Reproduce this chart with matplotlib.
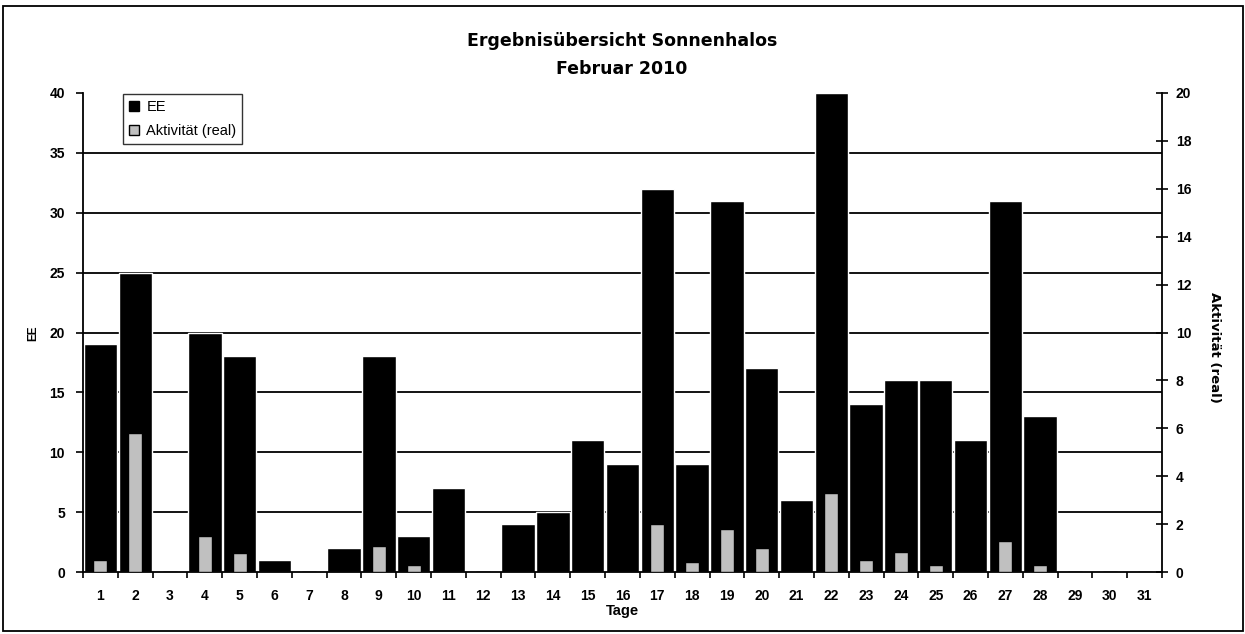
import matplotlib
matplotlib.use("Agg")
import matplotlib.pyplot as plt
from matplotlib.patches import Rectangle, Patch

days = list(range(1, 32))
ee = [19, 25, 0, 20, 18, 1, 0, 2, 18, 3, 7, 0, 4, 5, 11, 9, 32, 9, 31, 17,
      6, 40, 14, 16, 16, 11, 31, 13, 0, 0, 0]
akt = [0.5, 5.8, 0, 1.5, 0.8, 0, 0, 0, 1.1, 0.3, 0, 0, 0, 0, 0, 0, 2.0, 0.4, 1.8, 1.0,
       0, 3.3, 0.5, 0.85, 0.3, 0, 1.3, 0.3, 0, 0, 0]
title = "Ergebnisübersicht Sonnenhalos\nFebruar 2010"

plt.rcParams['font.family'] = ['Liberation Sans', 'DejaVu Sans']

W, H = 1245, 634
fig = plt.figure(figsize=(W / 100, H / 100), dpi=100)
ax = fig.add_axes([83 / W, 1 - 572 / H, (1162 - 83) / W, (572 - 93) / H])
ax2 = ax.twinx()

ax.set_axisbelow(True)
ax.bar(days, ee, width=0.96, color='black', edgecolor='white', linewidth=1.0, zorder=2)
ax2.bar(days, akt, width=0.4, color='#c0c0c0', edgecolor='black', linewidth=1.0, zorder=3)

ax.set_xlim(0.5, 31.5)
ax.set_ylim(0, 40)
ax2.set_ylim(0, 20)
ax.set_yticks(range(0, 41, 5))
ax2.set_yticks(range(0, 21, 2))
ax.set_xticks(days)
ax.set_xticks([d + 0.5 for d in range(0, 32)], minor=True)
ax.tick_params(axis='x', which='major', length=0, pad=12, labelsize=10)
ax.tick_params(axis='x', which='minor', length=4, width=1.2, direction='out')
for lab in ax.get_xticklabels():
    lab.set_fontweight('bold')
ax.tick_params(axis='y', length=5, width=1.2, direction='out', labelsize=10, pad=8)
for lab in ax.get_yticklabels():
    lab.set_fontweight('bold')
ax2.tick_params(axis='y', length=8, width=1.2, direction='inout', labelsize=10, pad=6)
for lab in ax2.get_yticklabels():
    lab.set_fontweight('bold')

for y in range(5, 40, 5):
    ax.axhline(y, color='black', linewidth=1.3, zorder=1)

for a in (ax, ax2):
    a.spines['top'].set_visible(False)
ax2.spines['left'].set_visible(False)
ax2.spines['bottom'].set_visible(False)
ax.spines['right'].set_visible(False)
ax.spines['left'].set_linewidth(1.3)
ax.spines['bottom'].set_linewidth(1.3)
ax2.spines['right'].set_linewidth(1.3)

ax.set_xlabel("Tage", fontsize=10.5, fontweight='bold', labelpad=1)
fig.text(33 / W, 1 - 333 / H, "EE", rotation=90, fontsize=8.5, fontweight='bold',
         ha='center', va='center')
fig.text(1214 / W, 1 - 347 / H, "Aktivität (real)", rotation=270, fontsize=9.5,
         fontweight='bold', ha='center', va='center', family='DejaVu Sans')

fig.text(622 / W, 1 - 55 / H, title, ha='center', va='center', fontsize=12.5,
         fontweight='bold', linespacing=1.7, family='DejaVu Sans')

handles = [Patch(facecolor='black', edgecolor='black', label='EE'),
           Patch(facecolor='#c0c0c0', edgecolor='black', label='Aktivität (real)')]
leg = fig.legend(handles=handles, loc='upper left', bbox_to_anchor=(123 / W, 1 - 94 / H),
                 fontsize=10.5, frameon=True, fancybox=False, handlelength=0.7,
                 handleheight=0.7, handletextpad=0.5, borderpad=0.4, labelspacing=0.7,
                 borderaxespad=0)
leg.get_frame().set_edgecolor('black')
leg.get_frame().set_linewidth(1.0)

fig.patches.append(Rectangle((3 / W, 3 / H), (W - 5) / W, (H - 9) / H, transform=fig.transFigure,
                             fill=False, edgecolor='black', linewidth=1.3))

fig.savefig("out.png", dpi=100)
